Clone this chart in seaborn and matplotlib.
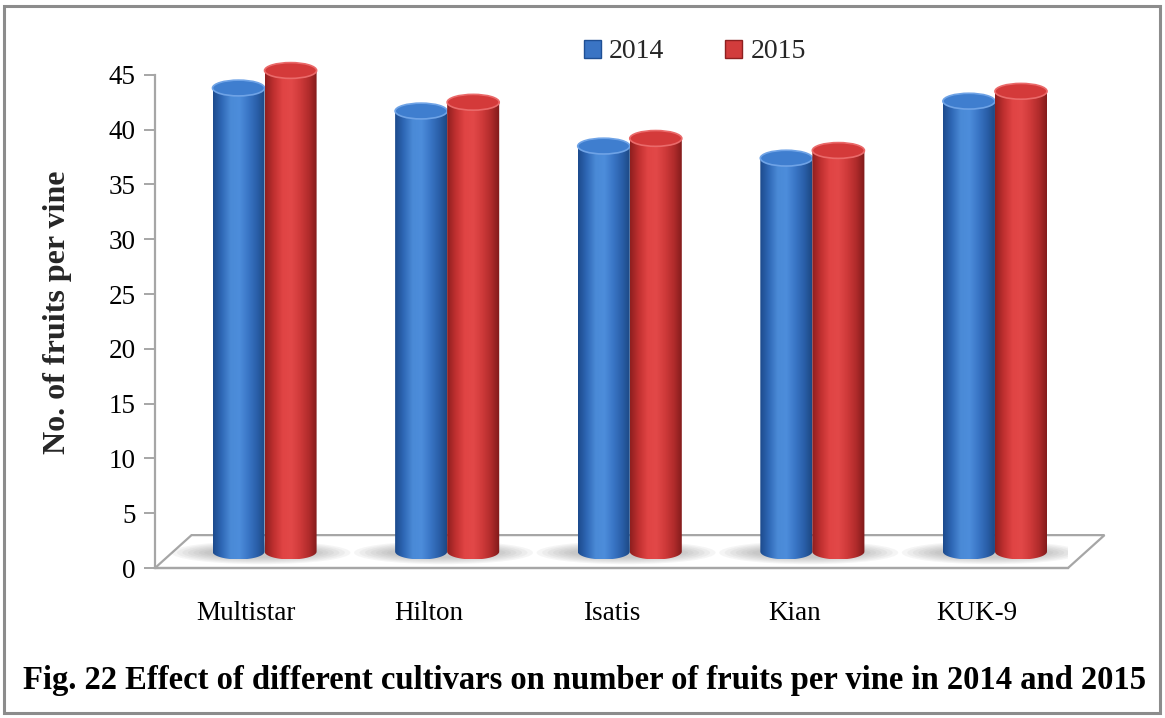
import numpy as np
import pandas as pd
import matplotlib
matplotlib.use("Agg")
import matplotlib.pyplot as plt
from matplotlib.colors import LinearSegmentedColormap
from matplotlib.patches import Ellipse, Polygon, Patch, Rectangle
import seaborn as sns

# ---- data -------------------------------------------------------------
cultivars = ["Multistar", "Hilton", "Isatis", "Kian", "KUK-9"]
years = ["2014", "2015"]
fruits_2014 = [42.3, 40.2, 37.0, 35.9, 41.1]
fruits_2015 = [43.9, 41.0, 37.7, 36.6, 42.0]
y_ticks = list(range(0, 50, 5))
y_label = "No. of fruits per vine"
caption = "Fig. 22 Effect of different cultivars on number of fruits per vine in 2014 and 2015"

df = pd.DataFrame({
    "cultivar": cultivars * 2,
    "year": [years[0]] * len(cultivars) + [years[1]] * len(cultivars),
    "fruits": fruits_2014 + fruits_2015,
})

# ---- style ------------------------------------------------------------
sns.set_theme(style="white")
plt.rcParams["font.family"] = ["Liberation Serif", "DejaVu Serif"]

blue_cmap = LinearSegmentedColormap.from_list(
    "cyl_blue", ["#1c4a8c", "#2f68b6", "#4a8ad6", "#4d8ddb", "#3a76c6", "#2a5fa9", "#1b467f"])
red_cmap = LinearSegmentedColormap.from_list(
    "cyl_red", ["#8e1f1f", "#c03030", "#e04444", "#e24848", "#cf3a3a", "#b02b2b", "#7e1a1a"])
series_style = {
    "2014": dict(cmap=blue_cmap, cap="#3f7ecf", rim="#6fa3e6", swatch="#3a74c4", edge="#1f4f94"),
    "2015": dict(cmap=red_cmap, cap="#d43a3a", rim="#ea6a6a", swatch="#d23c3c", edge="#8e2020"),
}
axis_grey = "#a6a6a6"

# oblique depth of the floor (data units) and cylinder cap half-height
depth_dx, depth_dy = 0.2, 3.0
cap_b = 0.72

fig = plt.figure(figsize=(11.65, 7.18), dpi=100)
ax = fig.add_axes([155 / 1165, 150 / 718, 913 / 1165, 526 / 718])

sns.barplot(data=df, x="cultivar", y="fruits", hue="year", order=cultivars,
            hue_order=years, palette=[series_style[y]["swatch"] for y in years],
            width=0.57, gap=0, saturation=1, legend=False, ax=ax)

# floor of the chart
floor = Polygon([(-0.5, 0), (4.5, 0), (4.5 + depth_dx, depth_dy), (-0.5 + depth_dx, depth_dy)],
                closed=True, facecolor="white", edgecolor=axis_grey, lw=1.6,
                zorder=1, clip_on=False)
ax.add_patch(floor)

# soft shadows beneath each pair of columns
for i in range(len(cultivars)):
    cx = i + depth_dx / 2 - 0.02
    for k in range(7):
        ax.add_patch(Ellipse((cx, depth_dy / 2 - 0.1), 0.62 + 0.06 * k, 0.9 + 0.2 * k,
                             facecolor="#7a7a7a", edgecolor="none", alpha=0.07, zorder=1.5))


def cylinder(x0, w, base, h, st, z):
    a = w / 2
    xc = x0 + a
    ytop = base + h
    t = np.linspace(np.pi, 2 * np.pi, 80)
    arc = np.column_stack([xc + a * np.cos(t), base + cap_b * np.sin(t)])
    outline = np.vstack([[x0, ytop], arc, [x0 + w, ytop]])
    clip = Polygon(outline, closed=True, facecolor="none", edgecolor="none")
    ax.add_patch(clip)
    grad = np.linspace(0, 1, 256)[None, :]
    im = ax.imshow(grad, cmap=st["cmap"], extent=[x0, x0 + w, base - cap_b, ytop],
                   aspect="auto", origin="lower", zorder=z, interpolation="bilinear")
    im.set_clip_path(clip)
    ax.add_patch(Ellipse((xc, ytop), w, 2 * cap_b, facecolor=st["cap"],
                         edgecolor=st["rim"], lw=1.2, zorder=z + 0.1))


# turn each seaborn bar into a shaded cylinder standing on the floor
for year, container in zip(years, ax.containers):
    st = series_style[year]
    for bar in container:
        x0 = bar.get_x() + depth_dx / 2
        w = bar.get_width()
        h = bar.get_height()
        bar.set_visible(False)
        cylinder(x0, w, depth_dy / 2, h, st, 3 if year == "2014" else 3.5)

# ---- axes -------------------------------------------------------------
ax.set_xlim(-0.5, 4.5)
ax.set_ylim(0, 48)
ax.set_yticks(y_ticks)
ax.set_yticklabels([str(v) for v in y_ticks], fontsize=19.5, color="black")
ax.set_xticks(range(len(cultivars)))
ax.set_xticklabels(cultivars, fontsize=19.5, color="black")
ax.set_xticks(np.arange(-0.5, len(cultivars), 1.0), minor=True)
ax.tick_params(axis="x", which="major", length=0, pad=24)
ax.tick_params(axis="x", which="minor", length=8, width=1.4, color=axis_grey, direction="out")
ax.tick_params(axis="y", length=8, width=1.4, color=axis_grey, direction="out", pad=6, left=True)
ax.set_xlabel("")
ax.set_ylabel(y_label, fontsize=23, fontweight="bold", labelpad=26)
ax.yaxis.label.set_y(0.487)

for side in ("top", "right"):
    ax.spines[side].set_visible(False)
ax.spines["left"].set_bounds(0, 45)
for side in ("left", "bottom"):
    ax.spines[side].set_color(axis_grey)
    ax.spines[side].set_linewidth(1.6)
ax.set_facecolor("none")

# ---- legend -----------------------------------------------------------
handles = [Patch(facecolor=series_style[y]["swatch"], edgecolor=series_style[y]["edge"],
                 linewidth=1.0, label=y) for y in years]
fig.legend(handles=handles, loc="center", bbox_to_anchor=(695 / 1165, 1 - 52 / 718),
           ncol=2, frameon=False, fontsize=20, handlelength=0.6, handleheight=0.6,
           handletextpad=0.3, columnspacing=2.2)

# ---- caption and outer frame -------------------------------------------
fig.text(585 / 1165, 1 - 680 / 718, caption, ha="center", va="center",
         fontsize=23.5, fontweight="bold", color="black")
fig.patches.append(Rectangle((4 / 1165, 5 / 718), 1156 / 1165, 707 / 718,
                             transform=fig.transFigure, fill=False,
                             edgecolor="#8c8c8c", lw=2.2))

fig.savefig("out.png", dpi=100)
